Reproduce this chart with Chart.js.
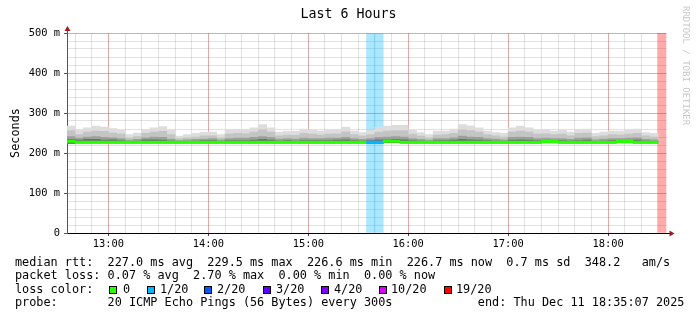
<!DOCTYPE html>
<html>
<head>
<meta charset="utf-8">
<title>Last 6 Hours</title>
<script src="https://cdn.jsdelivr.net/npm/chart.js@4.4.1/dist/chart.umd.min.js"></script>
<style>
  html, body { margin: 0; padding: 0; background: #fff; }
  #wrap { position: relative; width: 697px; height: 321px; overflow: hidden; }
  #pingChart { position: absolute; left: 0; top: 0; }
  .legend-line {
    position: absolute;
    left: 15px;
    font-family: 'DejaVu Sans Mono', monospace;
    font-size: 11.834px;
    line-height: 14px;
    color: #000;
    white-space: pre;
  }
  .swatch {
    position: absolute;
    top: 286px;
    width: 6px;
    height: 6px;
    border: 1px solid #000;
  }
  #watermark {
    position: absolute;
    left: 681px;
    top: 6px;
    writing-mode: vertical-rl;
    font-family: 'DejaVu Sans Mono', monospace;
    font-size: 9px;
    line-height: 10px;
    color: #c8c8c8;
    white-space: pre;
  }
</style>
</head>
<body>
<div id="wrap">
  <canvas id="pingChart" width="697" height="321"></canvas>
  <div class="legend-line" id="rttLine" style="top:254.6px"></div>
  <div class="legend-line" id="lossLine" style="top:268.2px"></div>
  <div class="legend-line" id="colorLine" style="top:281.9px">loss color:</div>
  <div class="legend-line" id="probeLine" style="top:295.2px"></div>
  <div id="watermark">RRDTOOL / TOBI OETIKER</div>
</div>
<script>
// 5 minute steps, labelled by their start time
const slotLabels = [
  '12:35', '12:40', '12:45', '12:50', '12:55',
  '13:00', '13:05', '13:10', '13:15', '13:20', '13:25', '13:30', '13:35', '13:40', '13:45', '13:50', '13:55',
  '14:00', '14:05', '14:10', '14:15', '14:20', '14:25', '14:30', '14:35', '14:40', '14:45', '14:50', '14:55',
  '15:00', '15:05', '15:10', '15:15', '15:20', '15:25', '15:30', '15:35', '15:40', '15:45', '15:50', '15:55',
  '16:00', '16:05', '16:10', '16:15', '16:20', '16:25', '16:30', '16:35', '16:40', '16:45', '16:50', '16:55',
  '17:00', '17:05', '17:10', '17:15', '17:20', '17:25', '17:30', '17:35', '17:40', '17:45', '17:50', '17:55',
  '18:00', '18:05', '18:10', '18:15', '18:20', '18:25', '18:30'
];

// values in ms
const smokeLow = [
  224, 225, 225, 225, 225, 225, 225, 225, 225, 225,
  225, 225, 225, 225, 225, 225, 225, 225, 225, 225,
  225, 225, 225, 225, 225, 225, 225, 225, 225, 225,
  225, 225, 225, 225, 225, 225, 224, 224, 226, 226,
  225, 225, 225, 225, 225, 225, 225, 225, 225, 225,
  225, 225, 225, 225, 225, 225, 225, 226, 226, 225,
  225, 225, 225, 225, 225, 225, 226, 226, 225, 225,
  225, null
];
const smokeCore = [
  234, 232, 234, 234, 232, 233, 231, 229, 230, 233,
  233, 232, 230, 228, 229, 230, 231, 231, 229, 231,
  231, 231, 232, 234, 232, 230, 231, 230, 231, 231,
  231, 231, 232, 233, 231, 230, 231, 233, 233, 234,
  233, 231, 230, 229, 231, 231, 232, 234, 233, 232,
  231, 230, 229, 232, 233, 232, 231, 231, 231, 231,
  230, 231, 232, 229, 230, 231, 231, 231, 232, 230,
  229, null
];
const smokeInner = [
  241, 237, 240, 241, 239, 238, 236, 232, 234, 238,
  240, 239, 235, 231, 233, 234, 235, 236, 233, 236,
  237, 237, 239, 241, 239, 235, 236, 235, 237, 236,
  236, 237, 237, 239, 236, 234, 236, 239, 240, 241,
  240, 236, 234, 232, 236, 236, 238, 242, 240, 239,
  236, 235, 233, 239, 240, 239, 236, 237, 236, 236,
  234, 237, 238, 233, 235, 236, 236, 237, 238, 234,
  233, null
];
const smokeUpper = [
  256, 246, 252, 255, 254, 250, 247, 238, 241, 249,
  252, 254, 246, 236, 238, 240, 243, 243, 238, 247,
  249, 248, 252, 258, 252, 243, 245, 244, 249, 247,
  245, 247, 248, 253, 246, 242, 246, 252, 255, 256,
  256, 247, 242, 238, 245, 246, 249, 258, 256, 252,
  246, 243, 240, 252, 255, 252, 247, 248, 246, 247,
  243, 249, 250, 241, 243, 246, 245, 247, 249, 243,
  240, null
];
const smokeTop = [
  267, 257, 263, 267, 265, 261, 257, 246, 250, 259,
  263, 266, 257, 242, 246, 249, 252, 252, 246, 259,
  259, 259, 263, 271, 263, 252, 254, 254, 260, 257,
  255, 257, 259, 265, 255, 251, 257, 265, 267, 269,
  269, 257, 251, 246, 255, 255, 260, 271, 268, 263,
  255, 251, 249, 263, 267, 263, 257, 259, 255, 257,
  252, 259, 260, 249, 252, 255, 255, 257, 260, 251,
  249, null
];
const medianRtt = [
  229.5, 227.0, 227.0, 227.0, 227.0, 227.0, 227.0, 227.0, 227.0, 227.0,
  227.0, 227.0, 227.0, 227.0, 227.0, 227.0, 227.0, 227.0, 227.0, 227.0,
  227.0, 227.0, 227.0, 227.0, 227.0, 227.0, 227.0, 227.0, 227.0, 227.0,
  227.0, 227.0, 227.0, 227.0, 227.0, 227.0, 226.7, 226.7, 229.4, 229.4,
  227.0, 227.0, 227.0, 227.0, 227.0, 227.0, 227.0, 227.0, 227.0, 227.0,
  227.0, 227.0, 227.0, 227.0, 227.0, 227.0, 227.0, 228.4, 228.4, 227.0,
  227.0, 227.0, 227.0, 227.0, 227.0, 227.0, 228.4, 228.4, 227.0, 227.0,
  227.0, null
];
// lost pings out of 20, per step
const lostPings = [
  0, 0, 0, 0, 0, 0, 0, 0, 0, 0,
  0, 0, 0, 0, 0, 0, 0, 0, 0, 0,
  0, 0, 0, 0, 0, 0, 0, 0, 0, 0,
  0, 0, 0, 0, 0, 0, 1, 1, 0, 0,
  0, 0, 0, 0, 0, 0, 0, 0, 0, 0,
  0, 0, 0, 0, 0, 0, 0, 0, 0, 0,
  0, 0, 0, 0, 0, 0, 0, 0, 0, 0,
  0, 19
];

const lossLevels = [0, 1, 2, 3, 4, 10, 19];
const lossLabels = ['0', '1/20', '2/20', '3/20', '4/20', '10/20', '19/20'];
const lossColors = ['#26ff00', '#00b8ff', '#0059ff', '#5e00ff', '#7e00ff', '#dd00ff', '#ff0000'];
const lossSwatchX = [109, 147, 204, 263, 321, 379, 444];
const lossLabelX = [123, 160, 217, 276, 334, 391, 456];

const hourTicks = ['13:00', '14:00', '15:00', '16:00', '17:00', '18:00'];
const rttTicks = [0, 100, 200, 300, 400, 500];
const rttTickLabels = ['0', '100 m', '200 m', '300 m', '400 m', '500 m'];

const rttStats = [227.0, 229.5, 226.6, 226.7];
const rttSd = 0.7;
const rttAmS = 348.2;
const lossStats = [0.07, 2.70, 0.00, 0.00];
const probeText = '20 ICMP Echo Pings (56 Bytes) every 300s';
const endText = 'end: Thu Dec 11 18:35:07 2025';

const windowStart = '12:35:07';
const windowEnd = '18:35:07';

const monoFamily = "'DejaVu Sans Mono', monospace";

function toMinutes(label) {
  const [h, m, s] = label.split(':').map(Number);
  return h * 60 + m + (s || 0) / 60 - 780;
}

function slotCentre(label) {
  return toMinutes(label) + 2.5;
}

function lossColor(lost) {
  let color = lossColors[0];
  lossLevels.forEach((level, i) => {
    if (lost >= level) {
      color = lossColors[i];
    }
  });
  return color;
}

function withAlpha(hex, alpha) {
  const n = parseInt(hex.slice(1), 16);
  return `rgba(${(n >> 16) & 255},${(n >> 8) & 255},${n & 255},${alpha})`;
}

function rangeData(lows, highs) {
  return slotLabels
    .map((label, i) => ({ x: slotCentre(label), lo: lows[i], hi: highs[i] }))
    .filter((p) => p.lo !== null && p.hi !== null)
    .map((p) => ({ x: p.x, y: [p.lo, p.hi] }));
}

function smokeLayer(label, highs, color, order) {
  return {
    label,
    data: rangeData(smokeLow, highs),
    backgroundColor: color,
    order,
    xAxisID: 'x',
    yAxisID: 'y'
  };
}

const medianPoints = slotLabels
  .map((label, i) => ({ i, x: slotCentre(label), m: medianRtt[i] }))
  .filter((p) => p.m !== null);

const lossPoints = slotLabels
  .map((label, i) => ({ x: slotCentre(label), lost: lostPings[i] }))
  .filter((p) => p.lost > 0);

const axisArrows = {
  id: 'axisArrows',
  afterDraw(chart) {
    const { ctx, chartArea: a } = chart;
    const ax = Math.round(a.left) + 0.5;
    const ay = Math.round(a.bottom) + 0.5;
    ctx.save();
    ctx.strokeStyle = '#555';
    ctx.lineWidth = 1;
    ctx.beginPath();
    ctx.moveTo(ax, a.top);
    ctx.lineTo(ax, a.top - 3);
    ctx.stroke();
    ctx.strokeStyle = '#000';
    ctx.beginPath();
    ctx.moveTo(a.right, ay);
    ctx.lineTo(a.right + 4, ay);
    ctx.stroke();
    ctx.fillStyle = '#a01c1c';
    ctx.beginPath();
    ctx.moveTo(ax, a.top - 7);
    ctx.lineTo(ax - 3, a.top - 2);
    ctx.lineTo(ax + 3, a.top - 2);
    ctx.closePath();
    ctx.fill();
    ctx.beginPath();
    ctx.moveTo(a.right + 8, ay);
    ctx.lineTo(a.right + 3, ay - 3);
    ctx.lineTo(a.right + 3, ay + 3);
    ctx.closePath();
    ctx.fill();
    ctx.restore();
  }
};

const minorTimeTicks = [];
for (let t = -20; t <= 330; t += 10) {
  minorTimeTicks.push({ value: t });
}
const minorRttTicks = [];
for (let v = 0; v <= 500; v += 20) {
  minorRttTicks.push({ value: v });
}

const xMin = toMinutes(windowStart);
const xMax = toMinutes(windowEnd);
const tickFont = { family: monoFamily, size: 10.4 };
const majorGrid = 'rgba(224,80,80,0.38)';
const minorGrid = 'rgba(150,150,150,0.28)';

new Chart(document.getElementById('pingChart'), {
  type: 'bar',
  data: {
    datasets: [
      {
        label: 'median rtt',
        data: medianPoints.map((p) => ({ x: p.x, y: [p.m - 3, p.m + 3] })),
        backgroundColor: medianPoints.map((p) => lossColor(lostPings[p.i])),
        order: 0,
        xAxisID: 'x',
        yAxisID: 'y'
      },
      smokeLayer('smoke core', smokeCore, '#6e6e6e', 1),
      smokeLayer('smoke inner', smokeInner, '#9e9e9e', 2),
      smokeLayer('smoke upper', smokeUpper, '#c4c4c4', 3),
      smokeLayer('smoke outer', smokeTop, '#dddddd', 4),
      {
        label: 'loss',
        data: lossPoints.map((p) => ({ x: p.x, y: [0, 500] })),
        backgroundColor: lossPoints.map((p) => withAlpha(lossColor(p.lost), 0.33)),
        order: 5,
        xAxisID: 'x',
        yAxisID: 'y'
      }
    ]
  },
  options: {
    responsive: false,
    animation: false,
    devicePixelRatio: 1,
    layout: { padding: { left: 0, right: 0, top: 0, bottom: 68 } },
    datasets: {
      bar: {
        grouped: false,
        barPercentage: 1,
        categoryPercentage: 1,
        borderWidth: 0
      }
    },
    plugins: {
      legend: { display: false },
      tooltip: { enabled: false },
      title: {
        display: true,
        text: 'Last 6 Hours',
        color: '#000',
        font: { family: monoFamily, size: 13.3, weight: 'normal', lineHeight: 1.2 },
        padding: { top: 7, bottom: 10.04 }
      }
    },
    scales: {
      xMinor: {
        type: 'linear',
        position: 'bottom',
        min: xMin,
        max: xMax,
        offset: false,
        z: 1,
        afterBuildTicks: (axis) => { axis.ticks = minorTimeTicks.slice(); },
        afterFit: (axis) => { axis.height = 0; },
        ticks: { display: false },
        grid: { color: minorGrid, drawTicks: false, offset: false },
        border: { display: false }
      },
      yMinor: {
        type: 'linear',
        position: 'left',
        min: 0,
        max: 500,
        z: 1,
        afterBuildTicks: (axis) => { axis.ticks = minorRttTicks.slice(); },
        afterFit: (axis) => { axis.width = 0; },
        ticks: { display: false },
        grid: {
          color: (c) => (c.tick && c.tick.value === 0 ? 'rgba(0,0,0,0)' : minorGrid),
          drawTicks: false
        },
        border: { display: false }
      },
      // empty strip on the right, keeps the title centred on the whole image
      yRight: {
        type: 'linear',
        position: 'right',
        min: 0,
        max: 500,
        afterFit: (axis) => { axis.width = 30.5; },
        ticks: { display: false },
        grid: { display: false, drawTicks: false },
        border: { display: false }
      },
      x: {
        type: 'linear',
        position: 'bottom',
        min: xMin,
        max: xMax,
        offset: false,
        z: 2,
        afterBuildTicks: (axis) => { axis.ticks = hourTicks.map((t) => ({ value: toMinutes(t) })); },
        afterFit: (axis) => { axis.height = 20; },
        ticks: {
          color: '#000',
          font: tickFont,
          padding: 2,
          maxRotation: 0,
          autoSkip: false,
          callback: (value) => hourTicks.find((t) => Math.abs(toMinutes(t) - value) < 0.01) || ''
        },
        grid: { color: majorGrid, drawTicks: true, tickLength: 3, tickColor: '#444', offset: false },
        border: { display: true, color: '#000', width: 1 }
      },
      y: {
        type: 'linear',
        position: 'left',
        min: 0,
        max: 500,
        z: 2,
        afterBuildTicks: (axis) => { axis.ticks = rttTicks.map((v) => ({ value: v })); },
        afterFit: (axis) => { axis.width = 67; },
        ticks: {
          color: '#000',
          font: tickFont,
          padding: 4,
          callback: (value) => rttTickLabels[rttTicks.indexOf(value)]
        },
        title: {
          display: true,
          text: 'Seconds',
          color: '#000',
          font: { family: monoFamily, size: 11.834 },
          padding: { top: 8.4, bottom: 0 }
        },
        grid: {
          color: (c) => (c.tick && c.tick.value === 0 ? 'rgba(0,0,0,0)' : majorGrid),
          drawTicks: true,
          tickLength: 3,
          tickColor: '#555'
        },
        border: { display: true, color: '#555', width: 1 }
      }
    }
  },
  plugins: [axisArrows]
});

// legend block under the plot
const fmt1 = (v) => v.toFixed(1);
const fmt2 = (v) => v.toFixed(2);
document.getElementById('rttLine').textContent =
  `median rtt:  ${fmt1(rttStats[0])} ms avg  ${fmt1(rttStats[1])} ms max  ${fmt1(rttStats[2])} ms min  ${fmt1(rttStats[3])} ms now  ${fmt1(rttSd)} ms sd  ${fmt1(rttAmS)}   am/s`;
document.getElementById('lossLine').textContent =
  `packet loss: ${fmt2(lossStats[0])} % avg  ${fmt2(lossStats[1])} % max  ${fmt2(lossStats[2])} % min  ${fmt2(lossStats[3])} % now`;
document.getElementById('probeLine').textContent =
  `probe:       ${probeText}            ${endText}`;

const wrap = document.getElementById('wrap');
lossLabels.forEach((label, i) => {
  const swatch = document.createElement('div');
  swatch.className = 'swatch';
  swatch.style.left = `${lossSwatchX[i]}px`;
  swatch.style.background = lossColors[i];
  wrap.appendChild(swatch);
  const text = document.createElement('div');
  text.className = 'legend-line';
  text.style.left = `${lossLabelX[i]}px`;
  text.style.top = '281.9px';
  text.textContent = label;
  wrap.appendChild(text);
});
</script>
</body>
</html>
